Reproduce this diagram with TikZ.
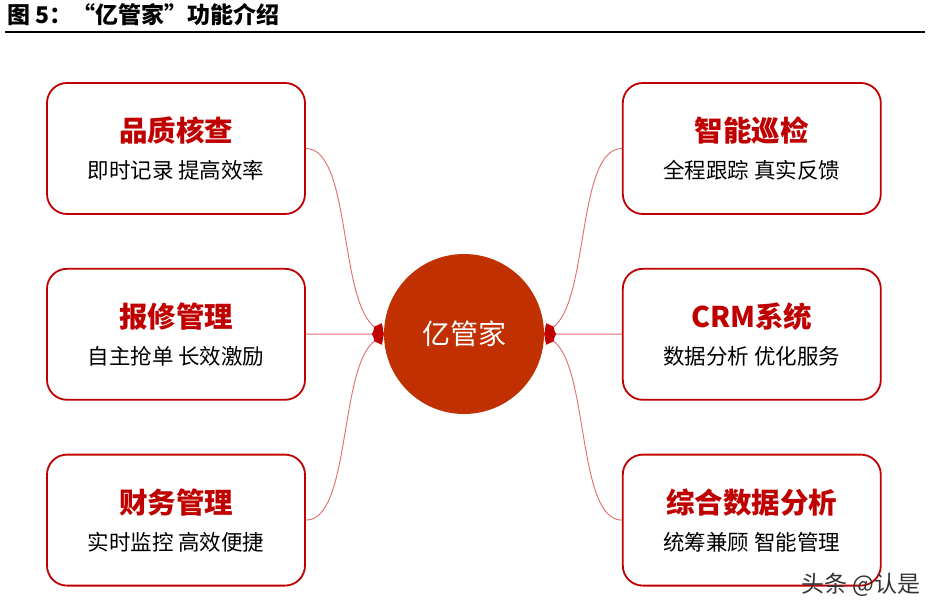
\documentclass[tikz,border=0pt]{standalone}
\usepackage{fontspec}
\setmainfont{Liberation Sans}
\newfontfamily\cjk{Noto Sans CJK SC}
\usetikzlibrary{positioning,arrows.meta}
\definecolor{BoxRed}{HTML}{C00000}
\definecolor{CoreRed}{HTML}{C03000}
\definecolor{LinkRed}{HTML}{E06B6B}
\tikzstyle{FuncBox}=[rectangle, rounded corners=20pt, draw=BoxRed, line width=1.8pt, fill=white, minimum width=258pt, minimum height=131pt, inner sep=0pt]
\tikzstyle{FuncHead}=[text=BoxRed, font=\cjk\bfseries\fontsize{28.5}{30}\selectfont, inner sep=0pt]
\tikzstyle{FuncText}=[text=black, font=\cjk\fontsize{21.5}{24}\selectfont, inner sep=0pt]
\tikzstyle{CoreBase}=[circle, fill=CoreRed, minimum size=160pt, text=white, font=\cjk\fontsize{28}{30}\selectfont]
\tikzstyle{FuncLink}=[draw=LinkRed, line width=0.9pt, -{Kite[length=12pt,width=15pt,inset=4pt,color=BoxRed]}]

\begin{document}
\begin{tikzpicture}[x=1pt,y=-1pt]
			\useasboundingbox (0,0) rectangle (943,616);
			%Titulo
			\node[anchor=west, font=\cjk\bfseries\fontsize{23}{26}\selectfont, inner sep=0pt]	(caption)	at (7,15)	{图 5：“亿管家”功能介绍};
			\coordinate (rule_l) at (5,32);
			\coordinate (rule_r) at (925,32);
			\draw[line width=2.5pt] (rule_l) -- (rule_r);

			%Nodos
			\node[CoreBase]	(core)	at (464,334)	{亿管家};

			\node[FuncBox]	(quality)	at (176,148.5)	{};
			\node[FuncBox]	(repair)	[below=53pt of quality]	{};
			\node[FuncBox]	(finance)	[below=53pt of repair]	{};

			\node[FuncBox]	(patrol)	[right=316pt of quality]	{};
			\node[FuncBox]	(crm)	[right=316pt of repair]	{};
			\node[FuncBox]	(analysis)	[right=316pt of finance]	{};

			%Textos
			\node[FuncHead]	(quality_head)	at ([yshift=18pt]quality.center)	{品质核查};
			\node[FuncText]	(quality_text)	at ([yshift=-22pt]quality.center)	{即时记录 提高效率};
			\node[FuncHead]	(repair_head)	at ([yshift=18pt]repair.center)	{报修管理};
			\node[FuncText]	(repair_text)	at ([yshift=-22pt]repair.center)	{自主抢单 长效激励};
			\node[FuncHead]	(finance_head)	at ([yshift=18pt]finance.center)	{财务管理};
			\node[FuncText]	(finance_text)	at ([yshift=-22pt]finance.center)	{实时监控 高效便捷};
			\node[FuncHead]	(patrol_head)	at ([yshift=18pt]patrol.center)	{智能巡检};
			\node[FuncText]	(patrol_text)	at ([yshift=-22pt]patrol.center)	{全程跟踪 真实反馈};
			\node[FuncHead]	(crm_head)	at ([yshift=18pt]crm.center)	{CRM系统};
			\node[FuncText]	(crm_text)	at ([yshift=-22pt]crm.center)	{数据分析 优化服务};
			\node[FuncHead]	(analysis_head)	at ([yshift=18pt]analysis.center)	{综合数据分析};
			\node[FuncText]	(analysis_text)	at ([yshift=-22pt]analysis.center)	{统筹兼顾 智能管理};

			%Flechas
			\draw[FuncLink] (quality.east) .. controls +(45,0) and +(-45,-34) .. (core.west);
			\draw[FuncLink] (repair) -- (core);
			\draw[FuncLink] (finance.east) .. controls +(45,0) and +(-45,34) .. (core.west);
			\draw[FuncLink] (patrol.west) .. controls +(-45,0) and +(45,-34) .. (core.east);
			\draw[FuncLink] (crm) -- (core);
			\draw[FuncLink] (analysis.west) .. controls +(-45,0) and +(45,34) .. (core.east);

			%Marca
			\node[font=\cjk\fontsize{23}{25}\selectfont, text=black!80, inner sep=0pt]	(mark)	at (861,585)	{头条 @认是};
		\end{tikzpicture}
\end{document}
